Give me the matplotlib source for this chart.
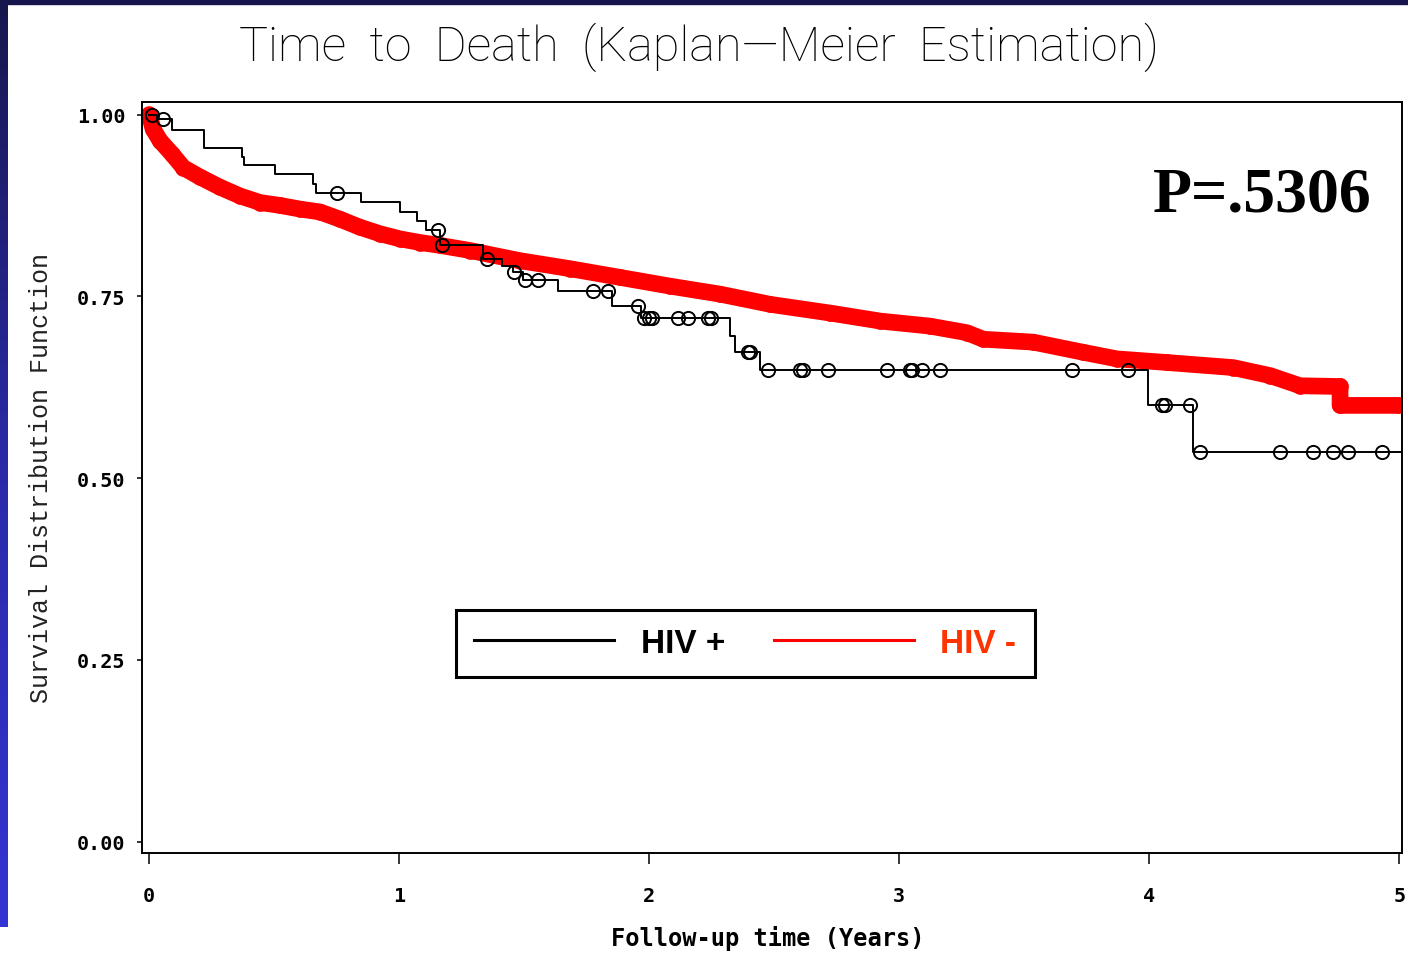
import numpy as np
import matplotlib.pyplot as plt
from matplotlib.lines import Line2D
from matplotlib.patches import Rectangle
from matplotlib.colors import LinearSegmentedColormap

# HIV + : Kaplan-Meier steps (event time, survival after the event)
pos_times = [0.0, 0.031, 0.091, 0.219, 0.370, 0.379, 0.503, 0.654, 0.667, 0.846,
             1.003, 1.070, 1.107, 1.163, 1.335, 1.410, 1.455, 1.495, 1.636, 1.850,
             1.967, 2.323, 2.343, 2.443, 3.996, 4.174, 5.010]
pos_surv = [1.000, 0.994, 0.979, 0.954, 0.942, 0.930, 0.918, 0.904, 0.892, 0.880,
            0.866, 0.854, 0.841, 0.821, 0.802, 0.792, 0.784, 0.772, 0.758, 0.737,
            0.720, 0.696, 0.673, 0.648, 0.601, 0.536, 0.536]
# HIV + : censored times
pos_cens = [0.010, 0.055, 0.751, 1.155, 1.170, 1.350, 1.460, 1.503, 1.555, 1.775,
            1.835, 1.955, 1.979, 1.999, 2.011, 2.115, 2.155, 2.235, 2.247, 2.395,
            2.403, 2.475, 2.603, 2.615, 2.715, 2.951, 3.043, 3.051, 3.090, 3.163,
            3.690, 3.914, 4.050, 4.063, 4.163, 4.203, 4.523, 4.655, 4.734, 4.795, 4.930]

# HIV - : survival curve read along the band of censor marks
neg_times = [0.0, 0.015, 0.043, 0.090, 0.136, 0.203, 0.283, 0.363, 0.443, 0.523,
             0.603, 0.683, 0.763, 0.843, 0.923, 1.003, 1.083, 1.163, 1.283, 1.483,
             1.683, 1.883, 2.083, 2.283, 2.483, 2.723, 2.923, 3.123, 3.270, 3.336,
             3.536, 3.736, 3.870, 4.070, 4.336, 4.483, 4.603, 4.763, 4.763, 4.996]
neg_surv = [1.000, 0.980, 0.964, 0.946, 0.927, 0.914, 0.900, 0.888, 0.879, 0.875,
            0.870, 0.866, 0.856, 0.845, 0.836, 0.829, 0.824, 0.820, 0.813, 0.799,
            0.788, 0.776, 0.764, 0.753, 0.739, 0.727, 0.716, 0.709, 0.700, 0.691,
            0.687, 0.673, 0.664, 0.659, 0.652, 0.641, 0.627, 0.626, 0.600, 0.600]

yticks = [0.0, 0.25, 0.5, 0.75, 1.0]
ytick_labels = ["0.00", "0.25", "0.50", "0.75", "1.00"]
xticks = [0, 1, 2, 3, 4, 5]

W, H = 1408, 954
fig = plt.figure(figsize=(W / 100, H / 100), dpi=100)
fig.patch.set_facecolor("white")

# blue slide frame (top bar + left gradient bar)
fig.add_artist(Rectangle((0, 1 - 5 / H), 1, 5 / H, transform=fig.transFigure,
                         color="#15154c", zorder=0))
bg = fig.add_axes([0, 1 - 928 / H, 8 / W, 928 / H])
cmap = LinearSegmentedColormap.from_list("slide", ["#17174e", "#2a2aa8", "#3434d2"])
bg.imshow(np.linspace(0, 1, 256).reshape(-1, 1), aspect="auto", cmap=cmap)
bg.axis("off")

ax = fig.add_axes([141.7 / W, 1 - 854 / H, (1402 - 141.7) / W, (854 - 102.5) / H])

# HIV - : thick red band of censor marks
ax.plot(neg_times, neg_surv, color="#ff0000", lw=12, solid_capstyle="round",
        solid_joinstyle="round", zorder=2)
ax.plot(neg_times, neg_surv, ls="none", marker="o", ms=10.5, mfc="none",
        mec="#ff0000", mew=1.5, zorder=2)

# HIV + : step line with censor circles
ax.plot(pos_times, pos_surv, drawstyle="steps-post", color="black", lw=1.4, zorder=3)
idx = np.searchsorted(pos_times, pos_cens, side="right") - 1
cens_y = np.array(pos_surv)[idx]
ax.plot(pos_cens, cens_y, ls="none", marker="o", ms=9.5, mfc="none",
        mec="black", mew=1.4, zorder=4)

ax.set_xlim(-0.0304, 5.0108)
ax.set_ylim(-0.0155, 1.0179)
ax.set_xticks(xticks)
ax.set_yticks(yticks)
ax.set_yticklabels(ytick_labels)
for lab in ax.get_xticklabels() + ax.get_yticklabels():
    lab.set_family("DejaVu Sans Mono")
    lab.set_fontweight("bold")
    lab.set_fontsize(14.5)
ax.tick_params(axis="x", direction="out", length=8, width=1.1, pad=16)
ax.tick_params(axis="y", direction="out", length=3.6, width=1.1, pad=8)
for sp in ax.spines.values():
    sp.set_linewidth(1.4)

ax.set_xlabel("Follow-up time (Years)", family="DejaVu Sans Mono",
              fontweight="bold", fontsize=17, va="center")
ax.xaxis.set_label_coords(0.497, -0.113)
ax.set_ylabel("Survival Distribution Function", family="Liberation Mono",
              fontsize=18, va="center", color="#222222")
ax.yaxis.set_label_coords(-0.0799, 0.5)

handles = [Line2D([], [], color="black", lw=2.2),
           Line2D([], [], color="#ff0000", lw=2.2)]
leg = ax.legend(handles, ["HIV +", "HIV -"], ncol=2, loc="center left",
                bbox_to_anchor=(456 / W, 1 - 644.5 / H), bbox_transform=fig.transFigure,
                prop={"family": "Liberation Sans", "weight": "bold", "size": 24},
                handlelength=4.2, handletextpad=0.8, columnspacing=1.45,
                borderpad=0.55, borderaxespad=0, fancybox=False, framealpha=1,
                edgecolor="black")
leg.get_frame().set_linewidth(2.2)
leg.get_texts()[1].set_color("#ff3300")

fig.text(699 / W, 1 - 47 / H, "Time  to  Death  (Kaplan\u2014Meier  Estimation)",
         ha="center", va="center", fontsize=35, family=["Roboto", "DejaVu Sans"],
         fontweight="light", color="black")
fig.text(1372 / W, 1 - 212 / H, "P=.5306", ha="right", va="baseline",
         fontsize=46, family="Liberation Serif", fontweight="bold")

fig.savefig("out.png", dpi=100)
